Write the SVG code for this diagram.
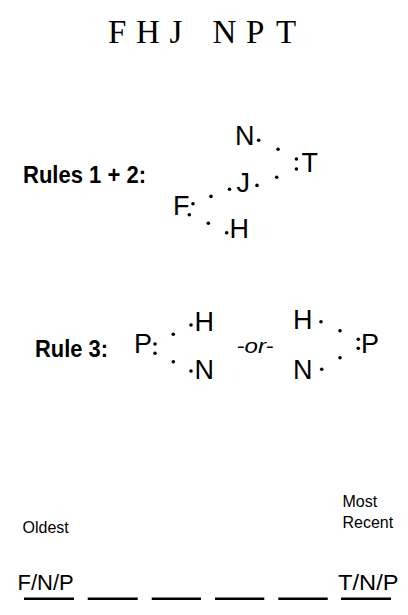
<svg xmlns="http://www.w3.org/2000/svg" width="408" height="615" viewBox="0 0 408 615">
<style>
.title{font-family:"Liberation Serif","Times New Roman",serif;font-size:33px;fill:#000}
.lbl{font-family:"Liberation Sans",Arial,sans-serif;font-size:24px;font-weight:bold;fill:#000}
.ltr{font-family:"Liberation Sans",Arial,sans-serif;font-size:27px;fill:#000}
.or{font-family:"Liberation Sans",Arial,sans-serif;font-size:21px;font-style:italic;fill:#000}
.sm{font-family:"Liberation Sans",Arial,sans-serif;font-size:16px;fill:#000}
.slot{font-family:"Liberation Sans",Arial,sans-serif;font-size:22px;fill:#000}
.dot{fill:#000}
.line{stroke:#000;stroke-width:2.5;fill:none}
</style>
<rect width="408" height="615" fill="#fff"/>
<g id="title">
<text class="title" y="43.3"><tspan x="108">F</tspan><tspan x="136">H</tspan><tspan x="169.5">J</tspan><tspan x="212.5">N</tspan><tspan x="246">P</tspan><tspan x="276">T</tspan></text>
</g>
<g id="rules12">
<text class="lbl" x="23" y="183.3" textLength="123" lengthAdjust="spacingAndGlyphs">Rules 1 + 2:</text>
<g id="r12-N"><text class="ltr" x="235" y="145">N</text></g>
<g id="r12-T"><text class="ltr" x="301.5" y="172">T</text></g>
<g id="r12-J"><text class="ltr" x="236.5" y="192">J</text></g>
<g id="r12-F"><text class="ltr" x="173" y="215">F</text></g>
<g id="r12-H"><text class="ltr" x="229.5" y="237.7">H</text></g>
</g>
<g id="rule3">
<text class="lbl" x="35" y="356.7" textLength="73" lengthAdjust="spacingAndGlyphs">Rule 3:</text>
<g id="r3-P1"><text class="ltr" x="134" y="353.3">P</text></g>
<g id="r3-H1"><text class="ltr" x="194.5" y="330.7">H</text></g>
<g id="r3-N1"><text class="ltr" x="194.5" y="379.3">N</text></g>
<text class="or" x="236.5" y="353.3" textLength="37" lengthAdjust="spacingAndGlyphs">-or-</text>
<g id="r3-H2"><text class="ltr" x="293" y="329.3">H</text></g>
<g id="r3-N2"><text class="ltr" x="293" y="379.3">N</text></g>
<g id="r3-P2"><text class="ltr" x="361" y="353.3">P</text></g>
</g>
<g id="connectors">
<circle class="dot" r="1.8" cx="258.7" cy="140.3"/>
<circle class="dot" r="1.8" cx="278" cy="149.2"/>
<circle class="dot" r="1.8" cx="296.4" cy="159"/>
<circle class="dot" r="1.8" cx="296.4" cy="169"/>
<circle class="dot" r="1.8" cx="276.7" cy="177.3"/>
<circle class="dot" r="1.8" cx="257" cy="185.4"/>
<circle class="dot" r="1.8" cx="229.5" cy="189.2"/>
<circle class="dot" r="1.8" cx="211" cy="196.4"/>
<circle class="dot" r="1.8" cx="193" cy="203.8"/>
<circle class="dot" r="1.8" cx="189.3" cy="214.8"/>
<circle class="dot" r="1.8" cx="208.3" cy="223.3"/>
<circle class="dot" r="1.8" cx="226.7" cy="232.8"/>
<circle class="dot" r="1.8" cx="155" cy="344"/>
<circle class="dot" r="1.8" cx="155" cy="353.3"/>
<circle class="dot" r="1.8" cx="173.3" cy="334.3"/>
<circle class="dot" r="1.8" cx="173.3" cy="361.7"/>
<circle class="dot" r="1.8" cx="191" cy="325"/>
<circle class="dot" r="1.8" cx="191" cy="371"/>
<circle class="dot" r="1.8" cx="321" cy="321.7"/>
<circle class="dot" r="1.8" cx="340" cy="330.7"/>
<circle class="dot" r="1.8" cx="358.3" cy="339.3"/>
<circle class="dot" r="1.8" cx="358.3" cy="348.3"/>
<circle class="dot" r="1.8" cx="340" cy="357.7"/>
<circle class="dot" r="1.8" cx="321.7" cy="369.3"/>
</g>
<g id="timeline">
<text class="sm" x="22.5" y="533.3">Oldest</text>
<text class="sm" x="342.5" y="506.7">Most</text>
<text class="sm" x="342.5" y="528.3">Recent</text>
<text class="slot" x="17.5" y="590">F/N/P</text>
<text class="slot" x="338" y="590" textLength="60.5" lengthAdjust="spacingAndGlyphs">T/N/P</text>
<path class="line" d="M24 598.8H74M87.7 598.8H137.7M151.7 598.8H201M215 598.8H264.3M278.3 598.8H327.7M341 598.8H391"/>
</g>
</svg>
